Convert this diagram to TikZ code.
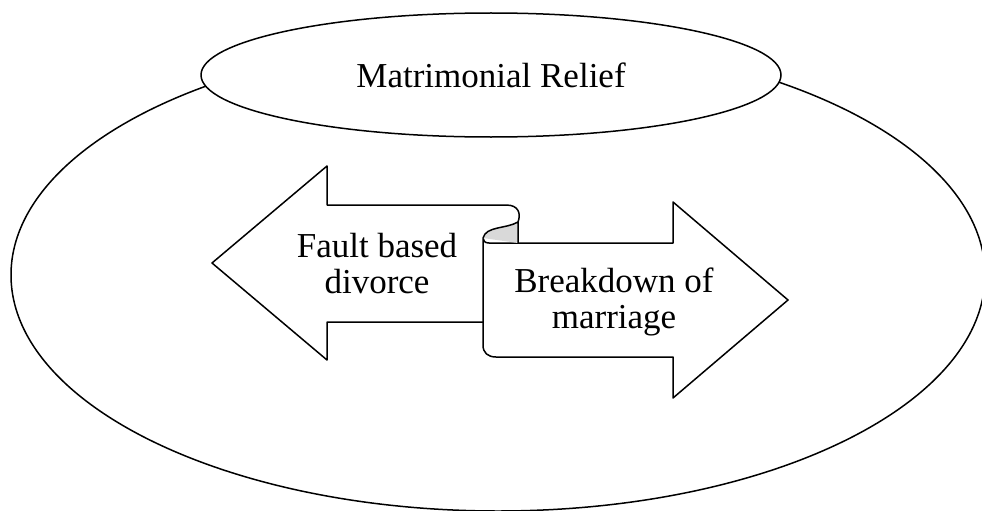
\documentclass[tikz,border=0pt]{standalone}
\usepackage{fontspec}
\setmainfont{Liberation Serif}
\usetikzlibrary{shapes.geometric}
\begin{document}
\begin{tikzpicture}[x=1pt,y=-1pt,line width=1.5pt,line join=round,
  lbl/.style={font=\fontsize{35}{36}\selectfont,align=center,inner sep=0pt}]
\clip (0,0) rectangle (982,511);
\node[draw,ellipse,minimum width=974pt,minimum height=472pt] (frame) at (498,275) {};
\node[draw,ellipse,fill=white,minimum width=580pt,minimum height=124pt,lbl] (relief) at (491,75) {Matrimonial Relief};

\draw[fill=white] (483,322) -- (327,322) -- (327,360) -- (212,263) -- (327,166) -- (327,205) -- (506,205) .. controls (519,205) and (521,214) .. (518,222);
\draw[fill=white] (483,238) -- (483,345) .. controls (483,353) and (488,357) .. (496,357) -- (673,357) -- (673,398) -- (788,300) -- (673,202) -- (673,243) -- (489,243) .. controls (485,243) and (483,241) .. (483,238);
\draw[fill=black!15] (483,238) .. controls (486,226) and (506,229) .. (518,222) -- (518,243);

\node[lbl] (fault) at (377,264) {Fault based\\divorce};
\node[lbl] (breakdown) at (614,302) {Breakdown of\\marriage};
\end{tikzpicture}
\end{document}
